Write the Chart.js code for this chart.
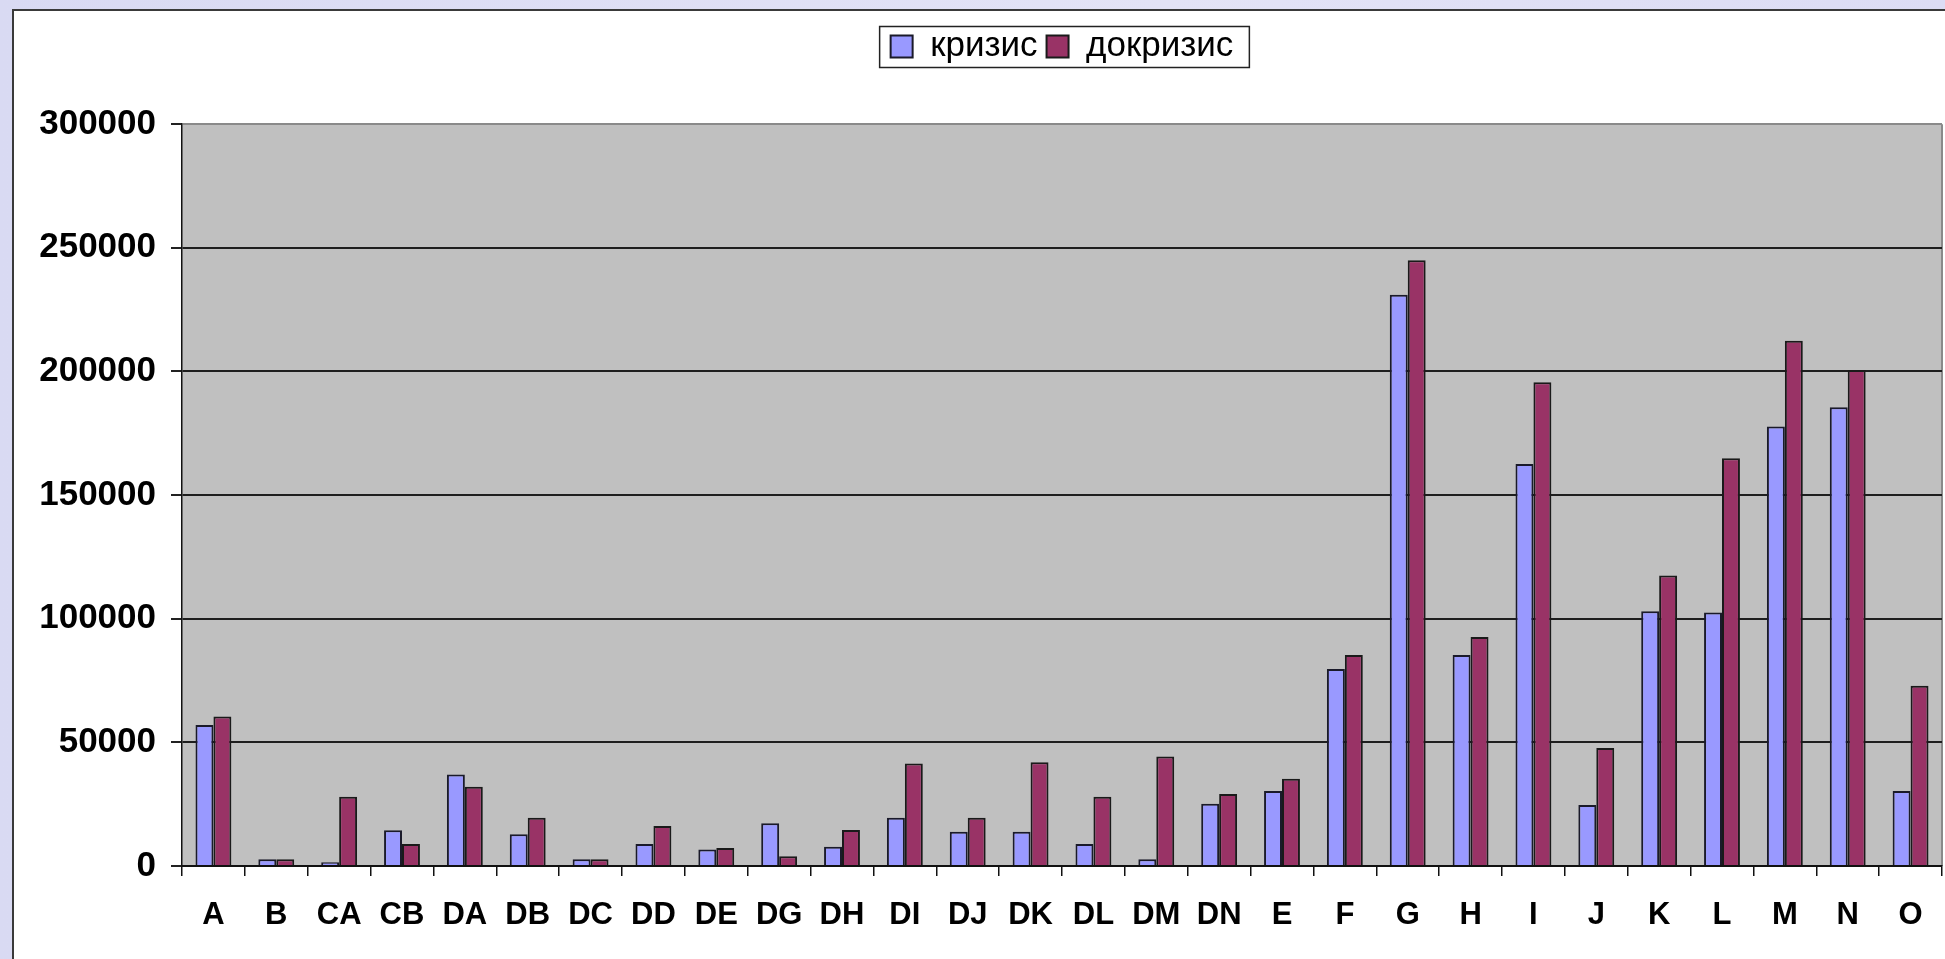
<!DOCTYPE html>
<html lang="ru">
<head>
    <meta charset="UTF-8">
    <script src="https://cdn.jsdelivr.net/npm/chart.js@4.4.1/dist/chart.umd.min.js"></script>
    <title>кризис / докризис</title>
    <style>
        * {
            margin: 0;
            padding: 0;
            box-sizing: border-box;
        }

        body {
            width: 1945px;
            height: 959px;
            overflow: hidden;
            background: linear-gradient(90deg, #d9daf3 0%, #e3e3f6 60%, #dcdcf4 100%);
        }

        #chart {
            position: absolute;
            left: 0;
            top: 0;
        }
    </style>
</head>
<body>
    <canvas id="chart" width="1945" height="959"></canvas>

    <script>
        // categories and values
        const categories = ['A', 'B', 'CA', 'CB', 'DA', 'DB', 'DC', 'DD', 'DE', 'DG', 'DH', 'DI', 'DJ', 'DK',
            'DL', 'DM', 'DN', 'E', 'F', 'G', 'H', 'I', 'J', 'K', 'L', 'M', 'N', 'O'];
        const crisis = [57000, 2700, 1500, 14500, 37000, 12800, 2700, 8900, 6700, 17300, 7800, 19500, 13900, 13900,
            8900, 2700, 25200, 30300, 79700, 231000, 85300, 162600, 24700, 103000, 102500, 177700, 185500, 30300];
        const precrisis = [60500, 2700, 28000, 8900, 32000, 19500, 2700, 16200, 7300, 3900, 14600, 41500, 19500, 42000,
            28000, 44300, 29100, 35300, 85300, 245000, 92600, 195600, 47700, 117500, 164900, 212400, 200600, 72900];
        const yTicks = [0, 50000, 100000, 150000, 200000, 250000, 300000];

        // white chart frame + grey plot area
        const framePlugin = {
            id: 'frame',
            beforeDraw(chart) {
                const ctx = chart.ctx;
                const a = chart.chartArea;
                ctx.save();
                ctx.fillStyle = '#ffffff';
                ctx.fillRect(13, 10, chart.width - 13, chart.height - 10);
                ctx.strokeStyle = '#3a3a3a';
                ctx.lineWidth = 2;
                ctx.beginPath();
                ctx.moveTo(13, chart.height);
                ctx.lineTo(13, 10);
                ctx.lineTo(chart.width, 10);
                ctx.stroke();
                ctx.fillStyle = '#c0c0c0';
                ctx.fillRect(a.left, a.top, a.right - a.left, a.bottom - a.top);
                ctx.strokeStyle = '#8a8a8a';
                ctx.beginPath();
                ctx.moveTo(a.right, a.bottom);
                ctx.lineTo(a.right, a.top);
                ctx.stroke();
                ctx.restore();
            },
            afterDraw(chart) {
                // border round the legend
                const boxes = chart.legend.legendHitBoxes;
                if (!boxes || !boxes.length) return;
                const first = boxes[0];
                const last = boxes[boxes.length - 1];
                const cy = first.top + first.height / 2;
                const ctx = chart.ctx;
                ctx.save();
                ctx.strokeStyle = '#222';
                ctx.lineWidth = 1.5;
                ctx.strokeRect(first.left - 11, cy - 20, last.left + last.width - first.left + 27, 41);
                ctx.restore();
            }
        };

        new Chart(document.getElementById('chart'), {
            type: 'bar',
            data: {
                labels: categories,
                datasets: [
                    {
                        label: 'кризис',
                        data: crisis,
                        backgroundColor: '#9999ff',
                        borderColor: '#1a1a2a',
                        borderWidth: 2
                    },
                    {
                        label: 'докризис',
                        data: precrisis,
                        backgroundColor: '#993366',
                        borderColor: '#1a1a1a',
                        borderWidth: 2
                    }
                ]
            },
            options: {
                responsive: false,
                animation: false,
                devicePixelRatio: 1,
                categoryPercentage: 0.571,
                barPercentage: 1.0,
                layout: {
                    padding: { top: 20, left: 0, right: 3, bottom: 0 }
                },
                plugins: {
                    legend: {
                        position: 'top',
                        fullSize: false,
                        weight: 2000,
                        labels: {
                            boxWidth: 22,
                            boxHeight: 22,
                            padding: 9,
                            color: '#000',
                            font: { family: "'Liberation Sans', Arial, sans-serif", size: 35 }
                        }
                    },
                    // empty title used as a spacer between legend and plot
                    title: {
                        display: true,
                        text: '',
                        weight: 500,
                        font: { size: 1 },
                        padding: { top: 0, bottom: 49 }
                    },
                    tooltip: { enabled: false }
                },
                scales: {
                    x: {
                        afterFit(scale) { scale.height = 93; },
                        grid: {
                            drawOnChartArea: false,
                            drawTicks: true,
                            tickLength: 10,
                            tickColor: '#111',
                            lineWidth: 1.5
                        },
                        border: { color: '#111', width: 2 },
                        ticks: {
                            color: '#000',
                            padding: 21,
                            maxRotation: 0,
                            autoSkip: false,
                            font: { family: "'Liberation Sans', Arial, sans-serif", size: 31, weight: 'bold' }
                        }
                    },
                    y: {
                        min: 0,
                        max: 300000,
                        afterFit(scale) { scale.width = 182; },
                        afterBuildTicks(scale) {
                            scale.ticks = yTicks.map(v => ({ value: v }));
                        },
                        grid: {
                            color: c => (c.tick && c.tick.value === 300000) ? '#8a8a8a' : '#1e1e1e',
                            lineWidth: 2,
                            tickLength: 11,
                            tickColor: '#222'
                        },
                        border: { color: '#111', width: 1.5 },
                        ticks: {
                            color: '#000',
                            padding: 15,
                            callback: v => String(v),
                            font: { family: "'Liberation Sans', Arial, sans-serif", size: 35, weight: 'bold' }
                        }
                    }
                }
            },
            plugins: [framePlugin]
        });
    </script>
</body>
</html>
